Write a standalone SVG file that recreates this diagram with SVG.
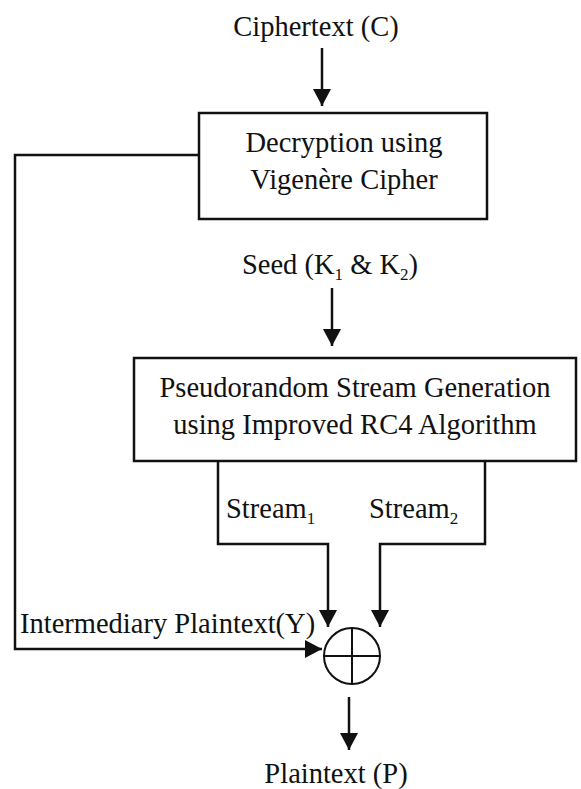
<svg xmlns="http://www.w3.org/2000/svg" width="581" height="789" viewBox="0 0 581 789">
<style>
text{font-family:"Liberation Serif","Times New Roman",serif;font-size:28.5px;fill:#111}
.sub{font-size:17px}
.box{fill:#fff;stroke:#111;stroke-width:2.5}
.ln{fill:none;stroke:#111;stroke-width:2.5}
</style>
<defs>
<marker id="ahb" viewBox="0 0 17 18" refX="17" refY="9" markerWidth="17" markerHeight="18" orient="auto" markerUnits="userSpaceOnUse"><path d="M0,0 L17,9 L0,18 Z" fill="#111"/></marker>
</defs>
<rect width="581" height="789" fill="#fff"/>
<g id="ciphertext"><text x="316" y="36" text-anchor="middle">Ciphertext (C)</text></g>
<g id="decrypt">
<rect class="box" x="199" y="113" width="288" height="106"/>
<text x="344" y="152" text-anchor="middle">Decryption using</text>
<text x="344" y="189" text-anchor="middle">Vigenère Cipher</text>
</g>
<g id="seed"><text x="330" y="274" text-anchor="middle">Seed (K<tspan class="sub" dy="6">1</tspan><tspan dy="-6"> &amp; K</tspan><tspan class="sub" dy="6">2</tspan><tspan dy="-6">)</tspan></text></g>
<g id="prng">
<rect class="box" x="134" y="358" width="442" height="103"/>
<text x="355" y="397" text-anchor="middle">Pseudorandom Stream Generation</text>
<text x="355" y="434" text-anchor="middle">using Improved RC4 Algorithm</text>
</g>
<g id="xor">
<circle cx="352" cy="656" r="28" fill="#fff" stroke="#111" stroke-width="2"/>
<line x1="324" y1="656" x2="380" y2="656" stroke="#111" stroke-width="2"/>
<line x1="352" y1="628" x2="352" y2="684" stroke="#111" stroke-width="2"/>
</g>
<g id="plaintext"><text x="336" y="783" text-anchor="middle">Plaintext (P)</text></g>
<g id="connectors">
<line class="ln" x1="322" y1="48" x2="322" y2="106" marker-end="url(#ahb)"/>
<line class="ln" x1="332" y1="288" x2="332" y2="346" marker-end="url(#ahb)"/>
<polyline class="ln" points="199,155 15,155 15,649 322,649" marker-end="url(#ahb)"/>
<polyline class="ln" points="218,461 218,544 328,544 328,627" marker-end="url(#ahb)"/>
<polyline class="ln" points="485,461 485,544 380,544 380,627" marker-end="url(#ahb)"/>
<line class="ln" x1="349" y1="697" x2="349" y2="750" marker-end="url(#ahb)"/>
<text x="226" y="518">Stream<tspan class="sub" dy="6">1</tspan></text>
<text x="369" y="518">Stream<tspan class="sub" dy="6">2</tspan></text>
<text x="20" y="633">Intermediary Plaintext(Y)</text>
</g>
</svg>
